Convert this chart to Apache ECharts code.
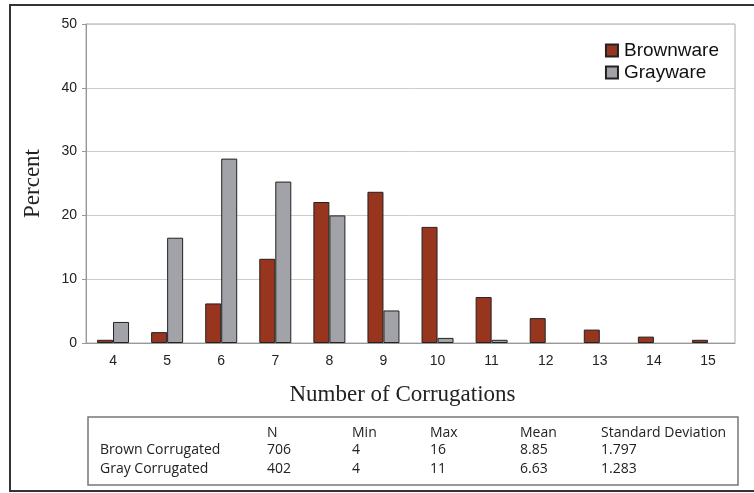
<!DOCTYPE html>
<html>
<head>
<meta charset="utf-8">
<script src="https://cdn.jsdelivr.net/npm/echarts@6/dist/echarts.min.js"></script>
<style>html,body{margin:0;padding:0;background:#fff}#c{width:754px;height:493px}</style>
</head>
<body>
<div id="c"></div>
<script>
var categories = ['4','5','6','7','8','9','10','11','12','13','14','15'];
var brownware = [0.5, 1.7, 6.2, 13.2, 22.1, 23.7, 18.2, 7.2, 3.9, 2.1, 1.0, 0.5];
var grayware = [3.3, 16.5, 28.9, 25.3, 20.0, 5.1, 0.8, 0.5, '-', '-', '-', '-'];
var seriesNames = ['Brownware', 'Grayware'];
var statHeaders = ['N', 'Min', 'Max', 'Mean', 'Standard Deviation'];
var rowLabels = ['Brown Corrugated', 'Gray Corrugated'];
var brownStats = ['706', '4', '16', '8.85', '1.797'];
var grayStats = ['402', '4', '11', '6.63', '1.283'];

var chart = echarts.init(document.getElementById('c'), null, {renderer: 'canvas'});

var tableFont = '14px "Open Sans", sans-serif';
var colX = [267, 352, 430, 520, 601];
var headerY = 433, rowY = [450, 469];
var graphics = [
  {type: 'rect', shape: {x: 10, y: 5, width: 760, height: 486}, style: {fill: 'none', stroke: '#333', lineWidth: 2}, silent: true},
  {type: 'rect', shape: {x: 88, y: 417, width: 650, height: 68}, style: {fill: 'none', stroke: '#777', lineWidth: 1.5}, silent: true}
];
statHeaders.forEach(function (h, i) {
  graphics.push({type: 'text', x: colX[i], y: headerY, style: {text: h, font: tableFont, fill: '#222', verticalAlign: 'middle'}});
});
var rows = [brownStats, grayStats];
rowLabels.forEach(function (lab, r) {
  graphics.push({type: 'text', x: 100, y: rowY[r], style: {text: lab, font: tableFont, fill: '#222', verticalAlign: 'middle'}});
  rows[r].forEach(function (v, i) {
    graphics.push({type: 'text', x: colX[i], y: rowY[r], style: {text: v, font: tableFont, fill: '#222', verticalAlign: 'middle'}});
  });
});

chart.setOption({
  animation: false,
  backgroundColor: '#fff',
  grid: {left: 86, right: 19, top: 24, bottom: 150, show: true, borderColor: '#aaa', borderWidth: 1},
  legend: {
    orient: 'vertical', right: 30, top: 36, itemWidth: 12, itemHeight: 12, itemGap: 3, icon: 'rect',
    textStyle: {fontFamily: 'Liberation Sans, Arial, sans-serif', fontSize: 19, color: '#111', padding: [0,0,0,1]},
    data: seriesNames
  },
  xAxis: {
    type: 'category', data: categories,
    name: 'Number of Corrugations', nameLocation: 'middle', nameGap: 40,
    nameTextStyle: {fontFamily: 'Liberation Serif, Times New Roman, serif', fontSize: 23, color: '#222', padding: [0, 16, 0, 0]},
    axisLine: {lineStyle: {color: '#999'}},
    axisTick: {length: 4, lineStyle: {color: '#999'}},
    axisLabel: {margin: 11, fontFamily: 'Liberation Sans, Arial, sans-serif', fontSize: 14, color: '#222'}
  },
  yAxis: {
    type: 'value', min: 0, max: 50, interval: 10,
    name: 'Percent', nameLocation: 'middle', nameGap: 42, nameRotate: 90,
    nameTextStyle: {fontFamily: 'Liberation Serif, Times New Roman, serif', fontSize: 23, color: '#222'},
    axisLine: {show: true, lineStyle: {color: '#999'}},
    axisTick: {show: true, length: 4, lineStyle: {color: '#999'}},
    axisLabel: {margin: 9, fontFamily: 'Liberation Sans, Arial, sans-serif', fontSize: 14, color: '#222'},
    splitLine: {lineStyle: {color: '#ccc'}}
  },
  series: [
    {name: seriesNames[0], type: 'bar', data: brownware, barWidth: 16, barGap: '0%',
     itemStyle: {color: '#98351f', borderColor: '#222', borderWidth: 1}},
    {name: seriesNames[1], type: 'bar', data: grayware, barWidth: 16, barGap: '0%',
     itemStyle: {color: '#a2a3a8', borderColor: '#222', borderWidth: 1}}
  ],
  graphic: graphics
});
</script>
</body>
</html>
